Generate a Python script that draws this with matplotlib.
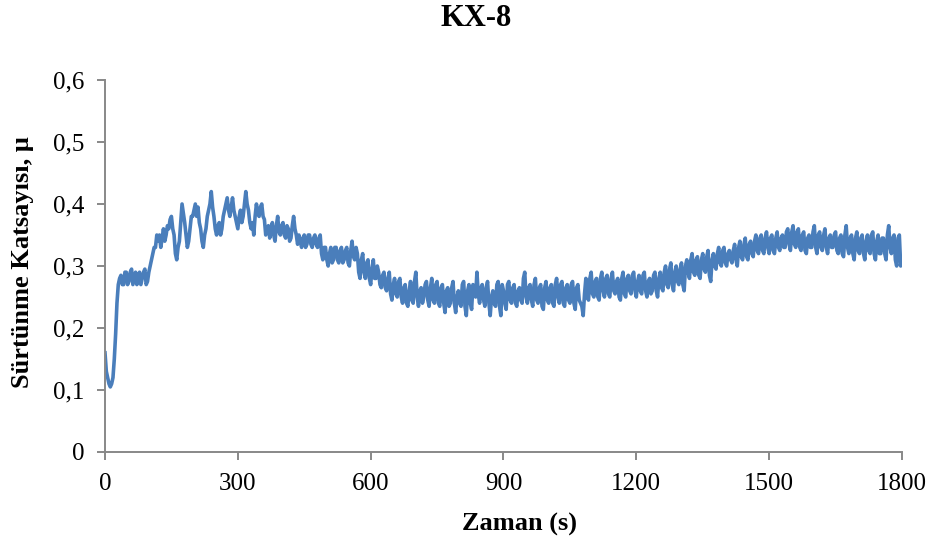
import matplotlib
matplotlib.use("Agg")
import matplotlib.pyplot as plt
from matplotlib.ticker import FuncFormatter
import numpy as np

plt.rcParams["font.family"] = ["Liberation Serif", "DejaVu Serif"]

TITLE = "KX-8"
X_LABEL = "Zaman (s)"
Y_LABEL = "Sürtünme Katsayısı, μ"

X_TICKS = [0, 300, 600, 900, 1200, 1500, 1800]
Y_TICKS = [0, 0.1, 0.2, 0.3, 0.4, 0.5, 0.6]

# friction coefficient at t = 0, 6, 12, ... s
mu_a = [
    0.16, 0.12, 0.105, 0.12, 0.19, 0.27, 0.285, 0.27, 0.29, 0.275,
    0.295, 0.28, 0.27, 0.29, 0.28, 0.295, 0.275, 0.30, 0.32, 0.33,
    0.34, 0.33, 0.36, 0.35, 0.36, 0.38, 0.35, 0.31, 0.34, 0.40,
    0.37, 0.33, 0.36, 0.38, 0.40, 0.395, 0.36, 0.33, 0.36, 0.39,
    0.42, 0.38, 0.35, 0.37, 0.36, 0.39, 0.41, 0.38, 0.41, 0.38,
    0.36, 0.39, 0.38, 0.42, 0.39, 0.36, 0.35, 0.40, 0.38, 0.40,
    0.375, 0.36, 0.345, 0.37, 0.34, 0.38, 0.35, 0.37, 0.345, 0.36,
    0.345, 0.38, 0.35, 0.35, 0.33, 0.35, 0.335, 0.35, 0.33, 0.35,
    0.33, 0.35, 0.31, 0.33, 0.30, 0.33, 0.31, 0.33, 0.305, 0.33,
    0.31, 0.33, 0.30, 0.34, 0.31, 0.32, 0.28, 0.32, 0.28, 0.31,
    0.27, 0.31, 0.28, 0.29, 0.265, 0.29, 0.26, 0.29, 0.245, 0.28,
    0.25, 0.28, 0.24, 0.27, 0.235, 0.275, 0.24, 0.29, 0.235, 0.265,
    0.25, 0.275, 0.235, 0.28, 0.24, 0.275, 0.235, 0.27, 0.225, 0.265,
    0.24, 0.275, 0.225, 0.26, 0.235, 0.275, 0.22, 0.27, 0.23, 0.265,
    0.29, 0.24, 0.27, 0.235, 0.275, 0.22, 0.26, 0.235, 0.275, 0.22,
    0.26, 0.23, 0.275, 0.24, 0.27, 0.235, 0.265, 0.24, 0.29, 0.24,
    0.27, 0.235, 0.28, 0.24, 0.27, 0.23, 0.275, 0.24, 0.27, 0.235,
    0.28, 0.24, 0.275, 0.235, 0.27, 0.24, 0.275, 0.23, 0.27, 0.24,
    0.22, 0.28, 0.245, 0.29, 0.25, 0.28, 0.245, 0.29, 0.25, 0.285,
    0.25, 0.29, 0.255, 0.28, 0.245, 0.29, 0.25, 0.285, 0.255, 0.29,
    0.25, 0.285, 0.255, 0.29, 0.25, 0.28, 0.26, 0.29, 0.25, 0.29,
    0.26, 0.30, 0.265, 0.305, 0.26, 0.30, 0.27, 0.305, 0.26, 0.31,
    0.28, 0.32, 0.285, 0.315, 0.28, 0.32, 0.29, 0.325, 0.275, 0.32,
    0.295, 0.33, 0.30, 0.33, 0.30, 0.325, 0.305, 0.335, 0.30, 0.34,
    0.31, 0.345, 0.31, 0.34, 0.315, 0.35, 0.32, 0.35, 0.32, 0.355,
    0.32, 0.35, 0.32, 0.355, 0.325, 0.35, 0.33, 0.36, 0.325, 0.365,
    0.33, 0.36, 0.325, 0.355, 0.32, 0.35, 0.33, 0.365, 0.32, 0.355,
    0.325, 0.36, 0.32, 0.35, 0.33, 0.355, 0.32, 0.35, 0.315, 0.365,
    0.32, 0.35, 0.31, 0.355, 0.32, 0.35, 0.31, 0.35, 0.32, 0.355,
    0.31, 0.35, 0.32, 0.345, 0.31, 0.365, 0.32, 0.35, 0.30, 0.35,
    0.31,
]

# readings in between, at t = 3, 9, 15, ... s
mu_b = [
    0.13, 0.11, 0.11, 0.15, 0.24, 0.28, 0.27, 0.29, 0.27, 0.29,
    0.27, 0.29, 0.285, 0.27, 0.29, 0.27, 0.29, 0.31, 0.33, 0.35,
    0.35, 0.345, 0.34, 0.365, 0.375, 0.36, 0.32, 0.33, 0.37, 0.385,
    0.35, 0.34, 0.38, 0.39, 0.38, 0.37, 0.34, 0.35, 0.38, 0.40,
    0.395, 0.36, 0.365, 0.35, 0.38, 0.40, 0.39, 0.395, 0.39, 0.37,
    0.38, 0.37, 0.40, 0.40, 0.37, 0.37, 0.38, 0.385, 0.395, 0.38,
    0.35, 0.365, 0.36, 0.35, 0.365, 0.355, 0.365, 0.35, 0.365, 0.34,
    0.365, 0.36, 0.335, 0.34, 0.345, 0.33, 0.35, 0.335, 0.345, 0.335,
    0.345, 0.32, 0.33, 0.31, 0.32, 0.305, 0.33, 0.31, 0.325, 0.305,
    0.325, 0.305, 0.325, 0.315, 0.33, 0.29, 0.31, 0.29, 0.305, 0.28,
    0.295, 0.28, 0.30, 0.27, 0.285, 0.265, 0.28, 0.255, 0.27, 0.255,
    0.275, 0.25, 0.265, 0.24, 0.26, 0.245, 0.275, 0.25, 0.26, 0.24,
    0.27, 0.245, 0.265, 0.245, 0.27, 0.24, 0.265, 0.24, 0.26, 0.235,
    0.265, 0.24, 0.25, 0.24, 0.27, 0.235, 0.26, 0.24, 0.27, 0.25,
    0.255, 0.265, 0.245, 0.265, 0.24, 0.25, 0.24, 0.27, 0.235, 0.27,
    0.24, 0.27, 0.245, 0.265, 0.24, 0.26, 0.245, 0.28, 0.25, 0.265,
    0.245, 0.27, 0.245, 0.265, 0.235, 0.265, 0.245, 0.265, 0.24, 0.27,
    0.25, 0.27, 0.24, 0.265, 0.245, 0.27, 0.24, 0.265, 0.245, 0.235,
    0.255, 0.25, 0.28, 0.255, 0.275, 0.25, 0.28, 0.26, 0.28, 0.255,
    0.28, 0.26, 0.275, 0.25, 0.28, 0.255, 0.28, 0.26, 0.285, 0.26,
    0.275, 0.26, 0.285, 0.26, 0.275, 0.255, 0.285, 0.26, 0.28, 0.265,
    0.29, 0.27, 0.295, 0.27, 0.29, 0.275, 0.295, 0.27, 0.30, 0.29,
    0.31, 0.29, 0.31, 0.285, 0.31, 0.295, 0.315, 0.285, 0.31, 0.30,
    0.32, 0.305, 0.325, 0.305, 0.32, 0.31, 0.325, 0.31, 0.33, 0.315,
    0.335, 0.315, 0.335, 0.32, 0.34, 0.325, 0.345, 0.325, 0.345, 0.33,
    0.345, 0.325, 0.345, 0.33, 0.345, 0.33, 0.355, 0.335, 0.355, 0.335,
    0.355, 0.33, 0.35, 0.325, 0.345, 0.33, 0.355, 0.33, 0.35, 0.33,
    0.35, 0.33, 0.345, 0.33, 0.35, 0.325, 0.345, 0.32, 0.35, 0.33,
    0.345, 0.32, 0.345, 0.325, 0.345, 0.32, 0.34, 0.325, 0.35, 0.32,
    0.34, 0.32, 0.345, 0.32, 0.35, 0.33, 0.345, 0.31, 0.345, 0.30,
]

t_a = np.arange(len(mu_a)) * 6
t_b = np.arange(len(mu_b)) * 6 + 3
t = np.concatenate([t_a, t_b])
mu = np.concatenate([mu_a, mu_b])
order = np.argsort(t)
t, mu = t[order], mu[order]

W, H = 931, 542
fig = plt.figure(figsize=(W / 100, H / 100), dpi=100)
ax = fig.add_axes([105 / W, 1 - 452 / H, 797 / W, 372 / H])

ax.plot(t, mu, color="#4A7EBB", lw=2.6, solid_joinstyle="round")

ax.set_xlim(0, 1800)
ax.set_ylim(0, 0.6)
ax.set_xticks(X_TICKS)
ax.set_yticks(Y_TICKS)
ax.yaxis.set_major_formatter(FuncFormatter(lambda v, p: "0" if v == 0 else f"{v:.1f}".replace(".", ",")))

for side in ("top", "right"):
    ax.spines[side].set_visible(False)
for side in ("left", "bottom"):
    ax.spines[side].set_color("#888888")
    ax.spines[side].set_linewidth(1.4)
ax.tick_params(axis="both", direction="out", length=6, width=1.4, color="#888888",
               labelsize=18, labelcolor="black")
ax.tick_params(axis="y", pad=9)
ax.tick_params(axis="x", pad=9)

ax.set_xlabel(X_LABEL, fontsize=19, fontweight="bold", va="center")
ax.xaxis.set_label_coords(0.52, -0.194)
ax.set_ylabel(Y_LABEL, fontsize=19, fontweight="bold", va="center")
ax.yaxis.set_label_coords(-0.104, 0.51)

fig.text(476 / W, 1 - 18 / H, TITLE, fontsize=22, fontweight="bold", ha="center", va="center")

fig.savefig("out.png", dpi=100)
